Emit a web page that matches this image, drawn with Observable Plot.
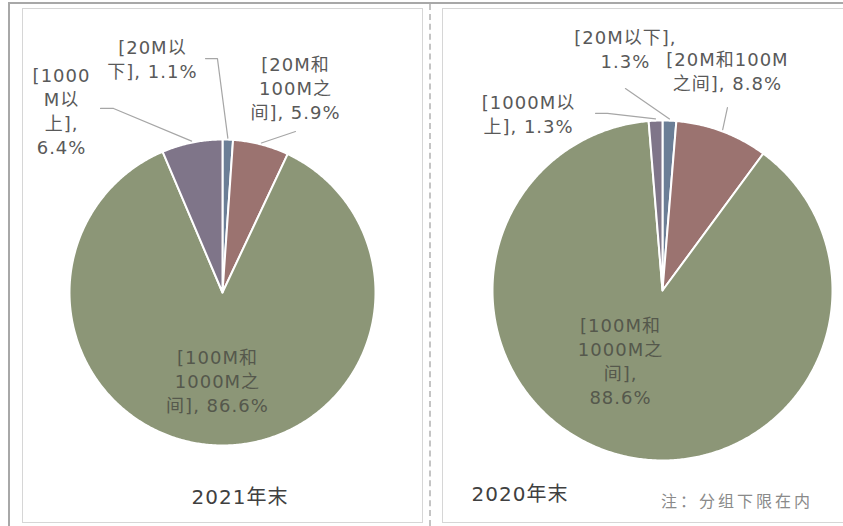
<!DOCTYPE html>
<html><head><meta charset="utf-8">
<script src="https://cdn.jsdelivr.net/npm/d3@7"></script>
<script src="https://cdn.jsdelivr.net/npm/@observablehq/plot@0.6"></script>
<style>
body{margin:0;background:#fff;}
#wrap{position:relative;width:843px;height:526px;overflow:hidden;font-family:"DejaVu Sans","Noto Sans CJK SC",sans-serif;}
.abs{position:absolute;box-sizing:border-box;}
.title{position:absolute;white-space:nowrap;transform:translate(-50%,-50%);}
</style></head><body><div id="wrap"></div>
<script>
// ---- data ----
const categories = ["[20M以下]", "[20M和100M之间]", "[100M和1000M之间]", "[1000M以上]"];
const values2021 = [1.1, 5.9, 86.6, 6.4];
const values2020 = [1.3, 8.8, 88.6, 1.3];
const periods = ["2021年末", "2020年末"];
const note = "注：分组下限在内";
const colors = ["#6b7e96", "#9b7370", "#8c9677", "#7f7589"];

// ---- layout (positions in radius units relative to pie centre) ----
const layouts = [
  {left: 0, width: 430, cx: 222, cy: 292, r: 153, values: values2021,
   title: {x: 240, y: 495},
   labels: [
     {breaks: [5], x: -0.458, y: 1.533, leader: [[-0.111, 1.529], [-0.033, 1.529]]},
     {breaks: [5, 10], x: 0.477, y: 1.340, leader: [[0.477, 1.052]]},
     {breaks: [6, 12], x: -0.033, y: -0.575, leader: null, inside: true},
     {breaks: [5, 7, 10], x: -1.052, y: 1.190, leader: [[-0.797, 1.203], [-0.712, 1.203]]}
   ]},
  {left: 430, width: 413, cx: 232, cy: 290, r: 170, values: values2020,
   title: {x: 520, y: 492},
   labels: [
     {breaks: [8], x: -0.218, y: 1.424, leader: [[-0.218, 1.188]]},
     {breaks: [9], x: 0.382, y: 1.294, leader: [[0.382, 1.076]]},
     {breaks: [6, 12, 15], x: -0.247, y: -0.409, leader: null, inside: true},
     {breaks: [7], x: -0.788, y: 1.041, leader: [[-0.394, 1.042], [-0.324, 1.042]]}
   ]}
];

const wrap = document.getElementById("wrap");
function box(style) { const d = document.createElement("div"); d.className = "abs"; Object.assign(d.style, style); wrap.appendChild(d); return d; }
// frames
box({left: "8px", top: "2px", width: "835px", height: "2px", background: "#a8a8a8"});
box({left: "8px", top: "2px", width: "2px", height: "524px", background: "#a8a8a8"});
box({left: "22px", top: "8px", width: "401px", height: "515px", border: "1px solid #d6d6d6"});
box({left: "429px", top: "4px", width: "2px", height: "522px", borderLeft: "2px dashed #c4c4c4"});
box({left: "442px", top: "8px", width: "420px", height: "515px", border: "1px solid #d6d6d6"});

function wrapText(s, breaks) {
  const parts = []; let p = 0;
  for (const b of breaks) { parts.push(s.slice(p, b).trim()); p = b; }
  parts.push(s.slice(p).trim());
  return parts.join("\n");
}

layouts.forEach((L, k) => {
  const rows = categories.map((c, i) => ({cat: c, value: L.values[i]}));
  const arcs = d3.pie().sort(null).value(d => d.value)(rows);
  const pts = arcs.flatMap(a => {
    const n = Math.max(2, Math.ceil((a.endAngle - a.startAngle) / (Math.PI / 360)));
    const out = [{cat: a.data.cat, x: 0, y: 0}];
    for (let i = 0; i <= n; i++) {
      const t = a.startAngle + (a.endAngle - a.startAngle) * i / n;
      out.push({cat: a.data.cat, x: Math.sin(t), y: Math.cos(t)});
    }
    return out;
  });
  const labels = arcs.map((a, i) => ({
    text: wrapText(`${a.data.cat}, ${a.data.value.toFixed(1)}%`, L.labels[i].breaks),
    x: L.labels[i].x, y: L.labels[i].y, inside: !!L.labels[i].inside
  }));
  const leaders = arcs.flatMap((a, i) => {
    const lead = L.labels[i].leader; if (!lead) return [];
    const mid = (a.startAngle + a.endAngle) / 2;
    return [...lead.map(([x, y]) => ({cat: a.data.cat, x, y})), {cat: a.data.cat, x: 1.01 * Math.sin(mid), y: 1.01 * Math.cos(mid)}];
  });
  const svg = Plot.plot({
    width: L.width, height: 526, margin: 0,
    style: {fontFamily: '"DejaVu Sans","Noto Sans CJK SC",sans-serif', letterSpacing: "1px", background: "transparent", overflow: "visible"},
    x: {domain: [-1, 1], range: [L.cx - L.r, L.cx + L.r], axis: null},
    y: {domain: [-1, 1], range: [L.cy + L.r, L.cy - L.r], axis: null},
    color: {domain: categories, range: colors},
    marks: [
      Plot.line(pts, {x: "x", y: "y", z: "cat", fill: "cat", stroke: "white", strokeWidth: 2, curve: "linear-closed"}),
      Plot.line(leaders, {x: "x", y: "y", z: "cat", stroke: "#a6a6a6", strokeWidth: 1.2, curve: "linear"}),
      Plot.text(labels.filter(d => !d.inside), {x: "x", y: "y", text: "text", fill: "#595959", fontSize: 18, lineHeight: 1.33, textAnchor: "middle", lineAnchor: "middle"}),
      Plot.text(labels.filter(d => d.inside), {x: "x", y: "y", text: "text", fill: "#55584c", fontSize: 18, lineHeight: 1.33, textAnchor: "middle", lineAnchor: "middle"})
    ]
  });
  svg.style.position = "absolute";
  svg.style.left = L.left + "px";
  svg.style.top = "0px";
  wrap.appendChild(svg);
  const t = document.createElement("div");
  t.className = "title";
  t.textContent = periods[k];
  Object.assign(t.style, {left: L.title.x + "px", top: L.title.y + "px", fontSize: "20px", color: "#404040", letterSpacing: "1px"});
  wrap.appendChild(t);
});
const n = document.createElement("div");
n.className = "title";
n.textContent = note;
Object.assign(n.style, {left: "737px", top: "500px", fontSize: "16px", color: "#8a8a8a", letterSpacing: "3px"});
wrap.appendChild(n);
</script></body></html>
